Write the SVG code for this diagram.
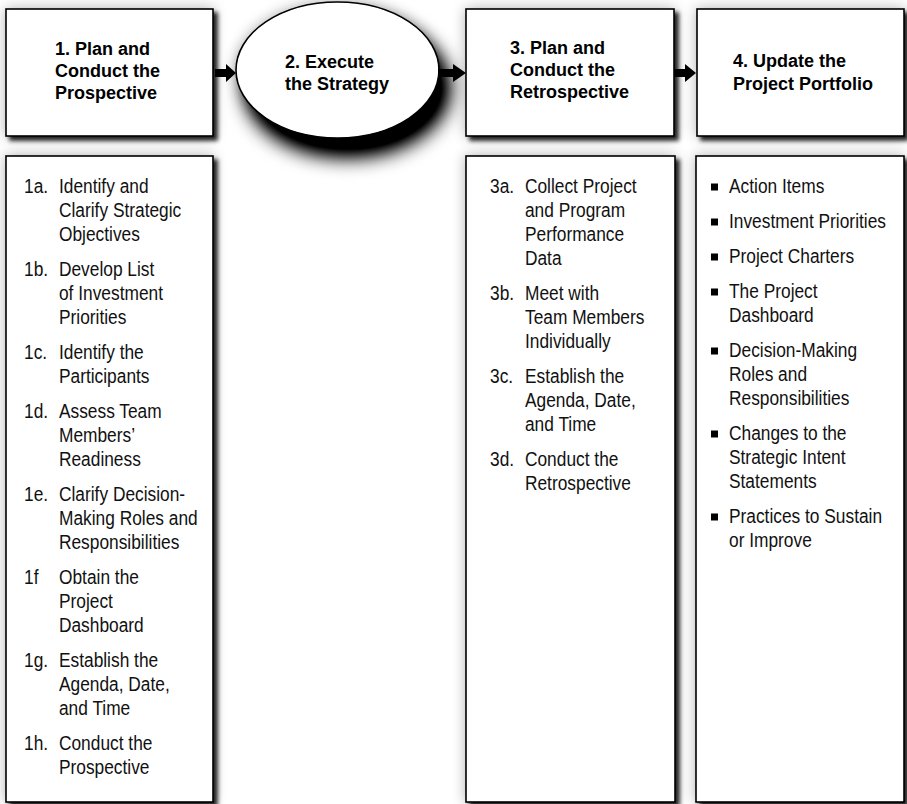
<svg xmlns="http://www.w3.org/2000/svg" width="907" height="804" viewBox="0 0 907 804">
  <defs>
    <!-- soft halo plus a darker offset drop shadow for the boxes -->
    <filter id="boxShadow" x="-15%" y="-15%" width="130%" height="130%" color-interpolation-filters="sRGB">
      <feGaussianBlur in="SourceAlpha" stdDeviation="7" result="halo"/>
      <feOffset in="SourceAlpha" dx="4" dy="4" result="off"/>
      <feGaussianBlur in="off" stdDeviation="2.2" result="drop"/>
      <feComponentTransfer in="halo" result="haloA"><feFuncA type="linear" slope="0.3"/></feComponentTransfer>
      <feComponentTransfer in="drop" result="dropA"><feFuncA type="linear" slope="0.85"/></feComponentTransfer>
      <feMerge>
        <feMergeNode in="haloA"/>
        <feMergeNode in="dropA"/>
        <feMergeNode in="SourceGraphic"/>
      </feMerge>
    </filter>
    <!-- heavier shadow under the ellipse -->
    <filter id="ovalShadow" x="-30%" y="-40%" width="160%" height="200%" color-interpolation-filters="sRGB">
      <feGaussianBlur in="SourceAlpha" stdDeviation="7" result="halo"/>
      <feOffset in="SourceAlpha" dx="10" dy="18" result="off"/>
      <feGaussianBlur in="off" stdDeviation="10" result="drop"/>
      <feComponentTransfer in="halo" result="haloA"><feFuncA type="linear" slope="0.3"/></feComponentTransfer>
      <feComponentTransfer in="drop" result="dropA"><feFuncA type="linear" slope="1.3"/></feComponentTransfer>
      <feMerge>
        <feMergeNode in="haloA"/>
        <feMergeNode in="dropA"/>
        <feMergeNode in="SourceGraphic"/>
      </feMerge>
    </filter>
  </defs>
  <style>
    .box { fill: #ffffff; stroke: #000000; stroke-width: 1.6; }
    .head { font-family: "Liberation Sans", Arial, sans-serif; font-weight: bold; font-size: 18px; fill: #000; }
    .body { font-family: "Liberation Sans", Arial, sans-serif; font-size: 21px; fill: #111; }
    .bullet { fill: #000; }
    .arrow { fill: #000; }
  </style>

  <rect width="907" height="804" fill="#ffffff"/>

  <!-- step 1 -->
  <g id="step1">
    <rect class="box" x="6" y="9" width="207" height="127" filter="url(#boxShadow)"/>
    <text class="head">
      <tspan x="55" y="54.5">1. Plan and</tspan>
      <tspan x="55" y="76.5">Conduct the</tspan>
      <tspan x="55" y="98.5">Prospective</tspan>
    </text>
  </g>

  <!-- step 2 -->
  <g id="step2">
    <ellipse class="box" cx="337.5" cy="70" rx="101.5" ry="68" filter="url(#ovalShadow)"/>
    <text class="head">
      <tspan x="285" y="68">2. Execute</tspan>
      <tspan x="285" y="90">the Strategy</tspan>
    </text>
  </g>

  <!-- step 3 -->
  <g id="step3">
    <rect class="box" x="466" y="9" width="208" height="127" filter="url(#boxShadow)"/>
    <text class="head">
      <tspan x="510" y="54">3. Plan and</tspan>
      <tspan x="510" y="76">Conduct the</tspan>
      <tspan x="510" y="98">Retrospective</tspan>
    </text>
  </g>

  <!-- step 4 -->
  <g id="step4">
    <rect class="box" x="697" y="9" width="207" height="127" filter="url(#boxShadow)"/>
    <text class="head">
      <tspan x="733" y="66.5">4. Update the</tspan>
      <tspan x="733" y="89.5">Project Portfolio</tspan>
    </text>
  </g>

  <!-- flow arrows between the steps -->
  <g id="connectors">
    <path class="arrow" d="M215 69 H226 V64 L236 73 L226 82 V77 H215 Z"/>
    <path class="arrow" d="M438 69 H453 V64 L466 73 L453 82 V77 H438 Z"/>
    <path class="arrow" d="M674 69 H685 V64 L696 73 L685 82 V77 H674 Z"/>
  </g>

  <!-- detail list for step 1 (text condensed horizontally) -->
  <g id="details1">
    <rect class="box" x="6" y="156" width="207" height="646" filter="url(#boxShadow)"/>
    <g transform="translate(24 0) scale(0.825 1)">
      <text class="body">
        <tspan x="0" y="193">1a.</tspan><tspan x="42.4" y="193">Identify and</tspan>
        <tspan x="42.4" y="217">Clarify Strategic</tspan>
        <tspan x="42.4" y="241">Objectives</tspan>
        <tspan x="0" y="276">1b.</tspan><tspan x="42.4" y="276">Develop List</tspan>
        <tspan x="42.4" y="300">of Investment</tspan>
        <tspan x="42.4" y="324">Priorities</tspan>
        <tspan x="0" y="359">1c.</tspan><tspan x="42.4" y="359">Identify the</tspan>
        <tspan x="42.4" y="383">Participants</tspan>
        <tspan x="0" y="418">1d.</tspan><tspan x="42.4" y="418">Assess Team</tspan>
        <tspan x="42.4" y="442">Members’</tspan>
        <tspan x="42.4" y="466">Readiness</tspan>
        <tspan x="0" y="501">1e.</tspan><tspan x="42.4" y="501">Clarify Decision-</tspan>
        <tspan x="42.4" y="525">Making Roles and</tspan>
        <tspan x="42.4" y="549">Responsibilities</tspan>
        <tspan x="0" y="584">1f</tspan><tspan x="42.4" y="584">Obtain the</tspan>
        <tspan x="42.4" y="608">Project</tspan>
        <tspan x="42.4" y="632">Dashboard</tspan>
        <tspan x="0" y="667">1g.</tspan><tspan x="42.4" y="667">Establish the</tspan>
        <tspan x="42.4" y="691">Agenda, Date,</tspan>
        <tspan x="42.4" y="715">and Time</tspan>
        <tspan x="0" y="750">1h.</tspan><tspan x="42.4" y="750">Conduct the</tspan>
        <tspan x="42.4" y="774">Prospective</tspan>
      </text>
    </g>
  </g>

  <!-- detail list for step 3 -->
  <g id="details3">
    <rect class="box" x="466" y="156" width="209" height="646" filter="url(#boxShadow)"/>
    <g transform="translate(490 0) scale(0.825 1)">
      <text class="body">
        <tspan x="0" y="193">3a.</tspan><tspan x="42.4" y="193">Collect Project</tspan>
        <tspan x="42.4" y="217">and Program</tspan>
        <tspan x="42.4" y="241">Performance</tspan>
        <tspan x="42.4" y="265">Data</tspan>
        <tspan x="0" y="300">3b.</tspan><tspan x="42.4" y="300">Meet with</tspan>
        <tspan x="42.4" y="324">Team Members</tspan>
        <tspan x="42.4" y="348">Individually</tspan>
        <tspan x="0" y="383">3c.</tspan><tspan x="42.4" y="383">Establish the</tspan>
        <tspan x="42.4" y="407">Agenda, Date,</tspan>
        <tspan x="42.4" y="431">and Time</tspan>
        <tspan x="0" y="466">3d.</tspan><tspan x="42.4" y="466">Conduct the</tspan>
        <tspan x="42.4" y="490">Retrospective</tspan>
      </text>
    </g>
  </g>

  <!-- portfolio outputs for step 4 -->
  <g id="details4">
    <rect class="box" x="696" y="156" width="208" height="646" filter="url(#boxShadow)"/>
    <g class="bullet">
      <rect x="711" y="183.5" width="7" height="7"/>
      <rect x="711" y="218.5" width="7" height="7"/>
      <rect x="711" y="253.5" width="7" height="7"/>
      <rect x="711" y="288.5" width="7" height="7"/>
      <rect x="711" y="347.5" width="7" height="7"/>
      <rect x="711" y="430.5" width="7" height="7"/>
      <rect x="711" y="513.5" width="7" height="7"/>
    </g>
    <g transform="translate(729 0) scale(0.825 1)">
      <text class="body">
        <tspan x="0" y="193">Action Items</tspan>
        <tspan x="0" y="228">Investment Priorities</tspan>
        <tspan x="0" y="263">Project Charters</tspan>
        <tspan x="0" y="298">The Project</tspan>
        <tspan x="0" y="322">Dashboard</tspan>
        <tspan x="0" y="357">Decision-Making</tspan>
        <tspan x="0" y="381">Roles and</tspan>
        <tspan x="0" y="405">Responsibilities</tspan>
        <tspan x="0" y="440">Changes to the</tspan>
        <tspan x="0" y="464">Strategic Intent</tspan>
        <tspan x="0" y="488">Statements</tspan>
        <tspan x="0" y="523">Practices to Sustain</tspan>
        <tspan x="0" y="547">or Improve</tspan>
      </text>
    </g>
  </g>
</svg>
